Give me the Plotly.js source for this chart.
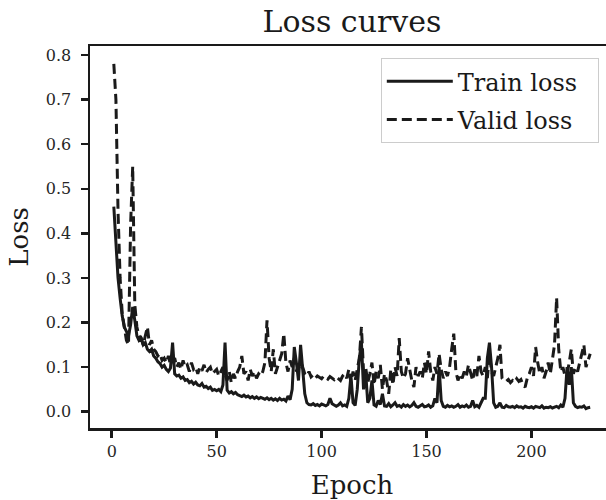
<!DOCTYPE html>
<html>
<head>
<meta charset="utf-8">
<script src="https://cdn.plot.ly/plotly-3.0.1.min.js"></script>
<style>
html, body { margin: 0; padding: 0; overflow: hidden; background: #fff; }
#chart { width: 616px; height: 500px; }
</style>
</head>
<body>
<div id="chart"></div>
<script>
// Train loss, one value per epoch (epoch 1 first)
const trainLoss = [
  0.46, 0.38, 0.30, 0.255, 0.215, 0.19, 0.18, 0.17, 0.195, 0.235,
  0.205, 0.17, 0.16, 0.165, 0.15, 0.155, 0.14, 0.135, 0.14, 0.125,
  0.12, 0.112, 0.108, 0.10, 0.104, 0.095, 0.09, 0.098, 0.155, 0.085,
  0.08, 0.082, 0.075, 0.078, 0.07, 0.072, 0.065, 0.068, 0.062, 0.066,
  0.06, 0.058, 0.063, 0.055, 0.057, 0.052, 0.055, 0.048, 0.05, 0.047,
  0.05, 0.045, 0.06, 0.155, 0.048, 0.042, 0.045, 0.04, 0.043, 0.038,
  0.036, 0.034, 0.037, 0.033, 0.035, 0.031, 0.034, 0.03, 0.033, 0.029,
  0.032, 0.03, 0.028, 0.031, 0.027, 0.03, 0.026, 0.029, 0.025, 0.03,
  0.026, 0.028, 0.024, 0.035, 0.027, 0.05, 0.145, 0.11, 0.07, 0.15,
  0.1, 0.04, 0.02, 0.016, 0.015, 0.018, 0.014, 0.016, 0.013, 0.017,
  0.015, 0.013, 0.016, 0.03, 0.018, 0.014, 0.012, 0.015, 0.02, 0.013,
  0.015, 0.012, 0.03, 0.08, 0.02, 0.014, 0.05, 0.12, 0.155, 0.05,
  0.09, 0.02, 0.03, 0.07, 0.015, 0.012, 0.025, 0.016, 0.04, 0.013,
  0.012, 0.018, 0.011, 0.015, 0.02, 0.012, 0.014, 0.01, 0.016, 0.012,
  0.015, 0.011, 0.014, 0.02, 0.012, 0.01, 0.013, 0.016, 0.011, 0.012,
  0.015, 0.01, 0.013, 0.03, 0.02, 0.1, 0.025, 0.012, 0.01, 0.014,
  0.011, 0.013, 0.01, 0.012, 0.016, 0.01, 0.013, 0.011, 0.015, 0.01,
  0.012, 0.025, 0.011, 0.014, 0.01, 0.02, 0.03, 0.03, 0.12, 0.155,
  0.1, 0.02, 0.01, 0.012, 0.02, 0.01, 0.009, 0.014, 0.011, 0.01,
  0.012, 0.009, 0.013, 0.01, 0.011, 0.008, 0.012, 0.01, 0.009, 0.011,
  0.008, 0.012, 0.01, 0.009, 0.013, 0.008, 0.01, 0.009, 0.011, 0.008,
  0.01, 0.012, 0.009, 0.015, 0.01, 0.03, 0.1, 0.06, 0.1, 0.02,
  0.012, 0.009, 0.011, 0.01, 0.013, 0.007, 0.009, 0.01
];

// Validation loss, one value per epoch (epoch 1 first)
const validLoss = [
  0.78, 0.70, 0.45, 0.30, 0.22, 0.19, 0.16, 0.15, 0.42, 0.55,
  0.24, 0.19, 0.17, 0.165, 0.15, 0.17, 0.19, 0.15, 0.16, 0.14,
  0.135, 0.125, 0.13, 0.115, 0.12, 0.11, 0.125, 0.105, 0.115, 0.12,
  0.1, 0.11, 0.095, 0.115, 0.1, 0.105, 0.09, 0.11, 0.095, 0.1,
  0.085, 0.1, 0.092, 0.105, 0.088, 0.095, 0.1, 0.085, 0.09, 0.095,
  0.08, 0.09, 0.1, 0.085, 0.07, 0.09, 0.065, 0.085, 0.075, 0.09,
  0.1, 0.125, 0.085, 0.09, 0.07, 0.095, 0.08, 0.09, 0.075, 0.085,
  0.08, 0.09, 0.11, 0.205, 0.12, 0.09, 0.14, 0.085, 0.1, 0.11,
  0.13, 0.175, 0.11, 0.09, 0.115, 0.1, 0.12, 0.09, 0.105, 0.095,
  0.1, 0.085, 0.08, 0.09, 0.078, 0.082, 0.075, 0.08, 0.077, 0.074,
  0.08, 0.076, 0.073, 0.079, 0.075, 0.072, 0.078, 0.074, 0.07, 0.08,
  0.085, 0.075, 0.095, 0.065, 0.09, 0.07, 0.1, 0.12, 0.19, 0.09,
  0.1, 0.065, 0.085, 0.11, 0.06, 0.09, 0.075, 0.105, 0.05, 0.085,
  0.07, 0.04, 0.095, 0.06, 0.1, 0.08, 0.165, 0.09, 0.075, 0.085,
  0.12, 0.09, 0.07, 0.055, 0.1, 0.08, 0.09, 0.075, 0.11, 0.085,
  0.135, 0.09, 0.07, 0.1, 0.085, 0.13, 0.095, 0.075, 0.09, 0.08,
  0.1, 0.14, 0.175, 0.09, 0.07, 0.085, 0.075, 0.09, 0.08, 0.105,
  0.085, 0.07, 0.095, 0.08, 0.125, 0.09, 0.08, 0.1, 0.075, 0.13,
  0.09, 0.08, 0.1, 0.12, 0.15, 0.075, 0.07, 0.068, 0.072, 0.065,
  0.07, 0.066, 0.074, 0.068, 0.072, 0.06, 0.055, 0.075, 0.085, 0.1,
  0.08, 0.145, 0.11, 0.085, 0.1, 0.075, 0.09, 0.11, 0.085, 0.12,
  0.15, 0.255, 0.14, 0.09, 0.1, 0.08, 0.085, 0.11, 0.14, 0.085,
  0.1, 0.09, 0.11, 0.13, 0.15, 0.1, 0.115, 0.13
];

const seriesNames = ["Train loss", "Valid loss"];
const xTicks = [0, 50, 100, 150, 200];
const yTicks = [0.0, 0.1, 0.2, 0.3, 0.4, 0.5, 0.6, 0.7, 0.8];
const yTickText = ["0.0", "0.1", "0.2", "0.3", "0.4", "0.5", "0.6", "0.7", "0.8"];

const epochs = trainLoss.map((_, i) => i + 1);

const FONT = "DejaVu Serif";
const INK = "#1a1a1a";
const PAD = "\u00a0\u00a0";

const traces = [
  {
    x: epochs, y: trainLoss, name: seriesNames[0] + PAD, type: "scatter", mode: "lines",
    legendgroup: "train",
    line: { color: INK, width: 3 }
  },
  {
    x: epochs, y: validLoss, name: seriesNames[1] + PAD, type: "scatter", mode: "lines",
    legendgroup: "valid",
    line: { color: INK, width: 3, dash: "10px,5px" }
  }
];

const axisCommon = {
  showline: true, mirror: true, linecolor: INK, linewidth: 2.5,
  showgrid: false, zeroline: false,
  ticks: "outside", ticklen: 7, tickwidth: 2.5, tickcolor: INK,
  tickfont: { family: FONT, size: 16, color: "#262626" }
};

const layout = {
  width: 616, height: 500,
  margin: { l: 90, r: 2, t: 46, b: 72 },
  paper_bgcolor: "#fff", plot_bgcolor: "#fff",
  title: {
    text: "Loss curves", font: { family: FONT, size: 30, color: INK },
    x: 0.5, xref: "paper", xanchor: "center", y: 0.958, yref: "container", yanchor: "middle"
  },
  xaxis: Object.assign({}, axisCommon, {
    range: [-10.35, 239.35], tickvals: xTicks, ticklabelstandoff: 0,
    title: { text: "Epoch", font: { family: FONT, size: 26, color: INK }, standoff: 22 }
  }),
  yaxis: Object.assign({}, axisCommon, {
    range: [-0.0366, 0.8202], tickvals: yTicks, ticktext: yTickText, ticklabelstandoff: 6,
    title: { text: "Loss", font: { family: FONT, size: 26, color: INK }, standoff: 10 }
  }),
  showlegend: true,
  legend: {
    x: 0.971, y: 0.968, xanchor: "right", yanchor: "top",
    traceorder: "grouped", tracegroupgap: 4,
    bgcolor: "rgba(255,255,255,0.8)", bordercolor: "#cccccc", borderwidth: 1,
    font: { family: FONT, size: 24, color: INK },
    itemwidth: 66
  }
};

Plotly.newPlot("chart", traces, layout, { displayModeBar: false, staticPlot: true });
</script>
</body>
</html>
